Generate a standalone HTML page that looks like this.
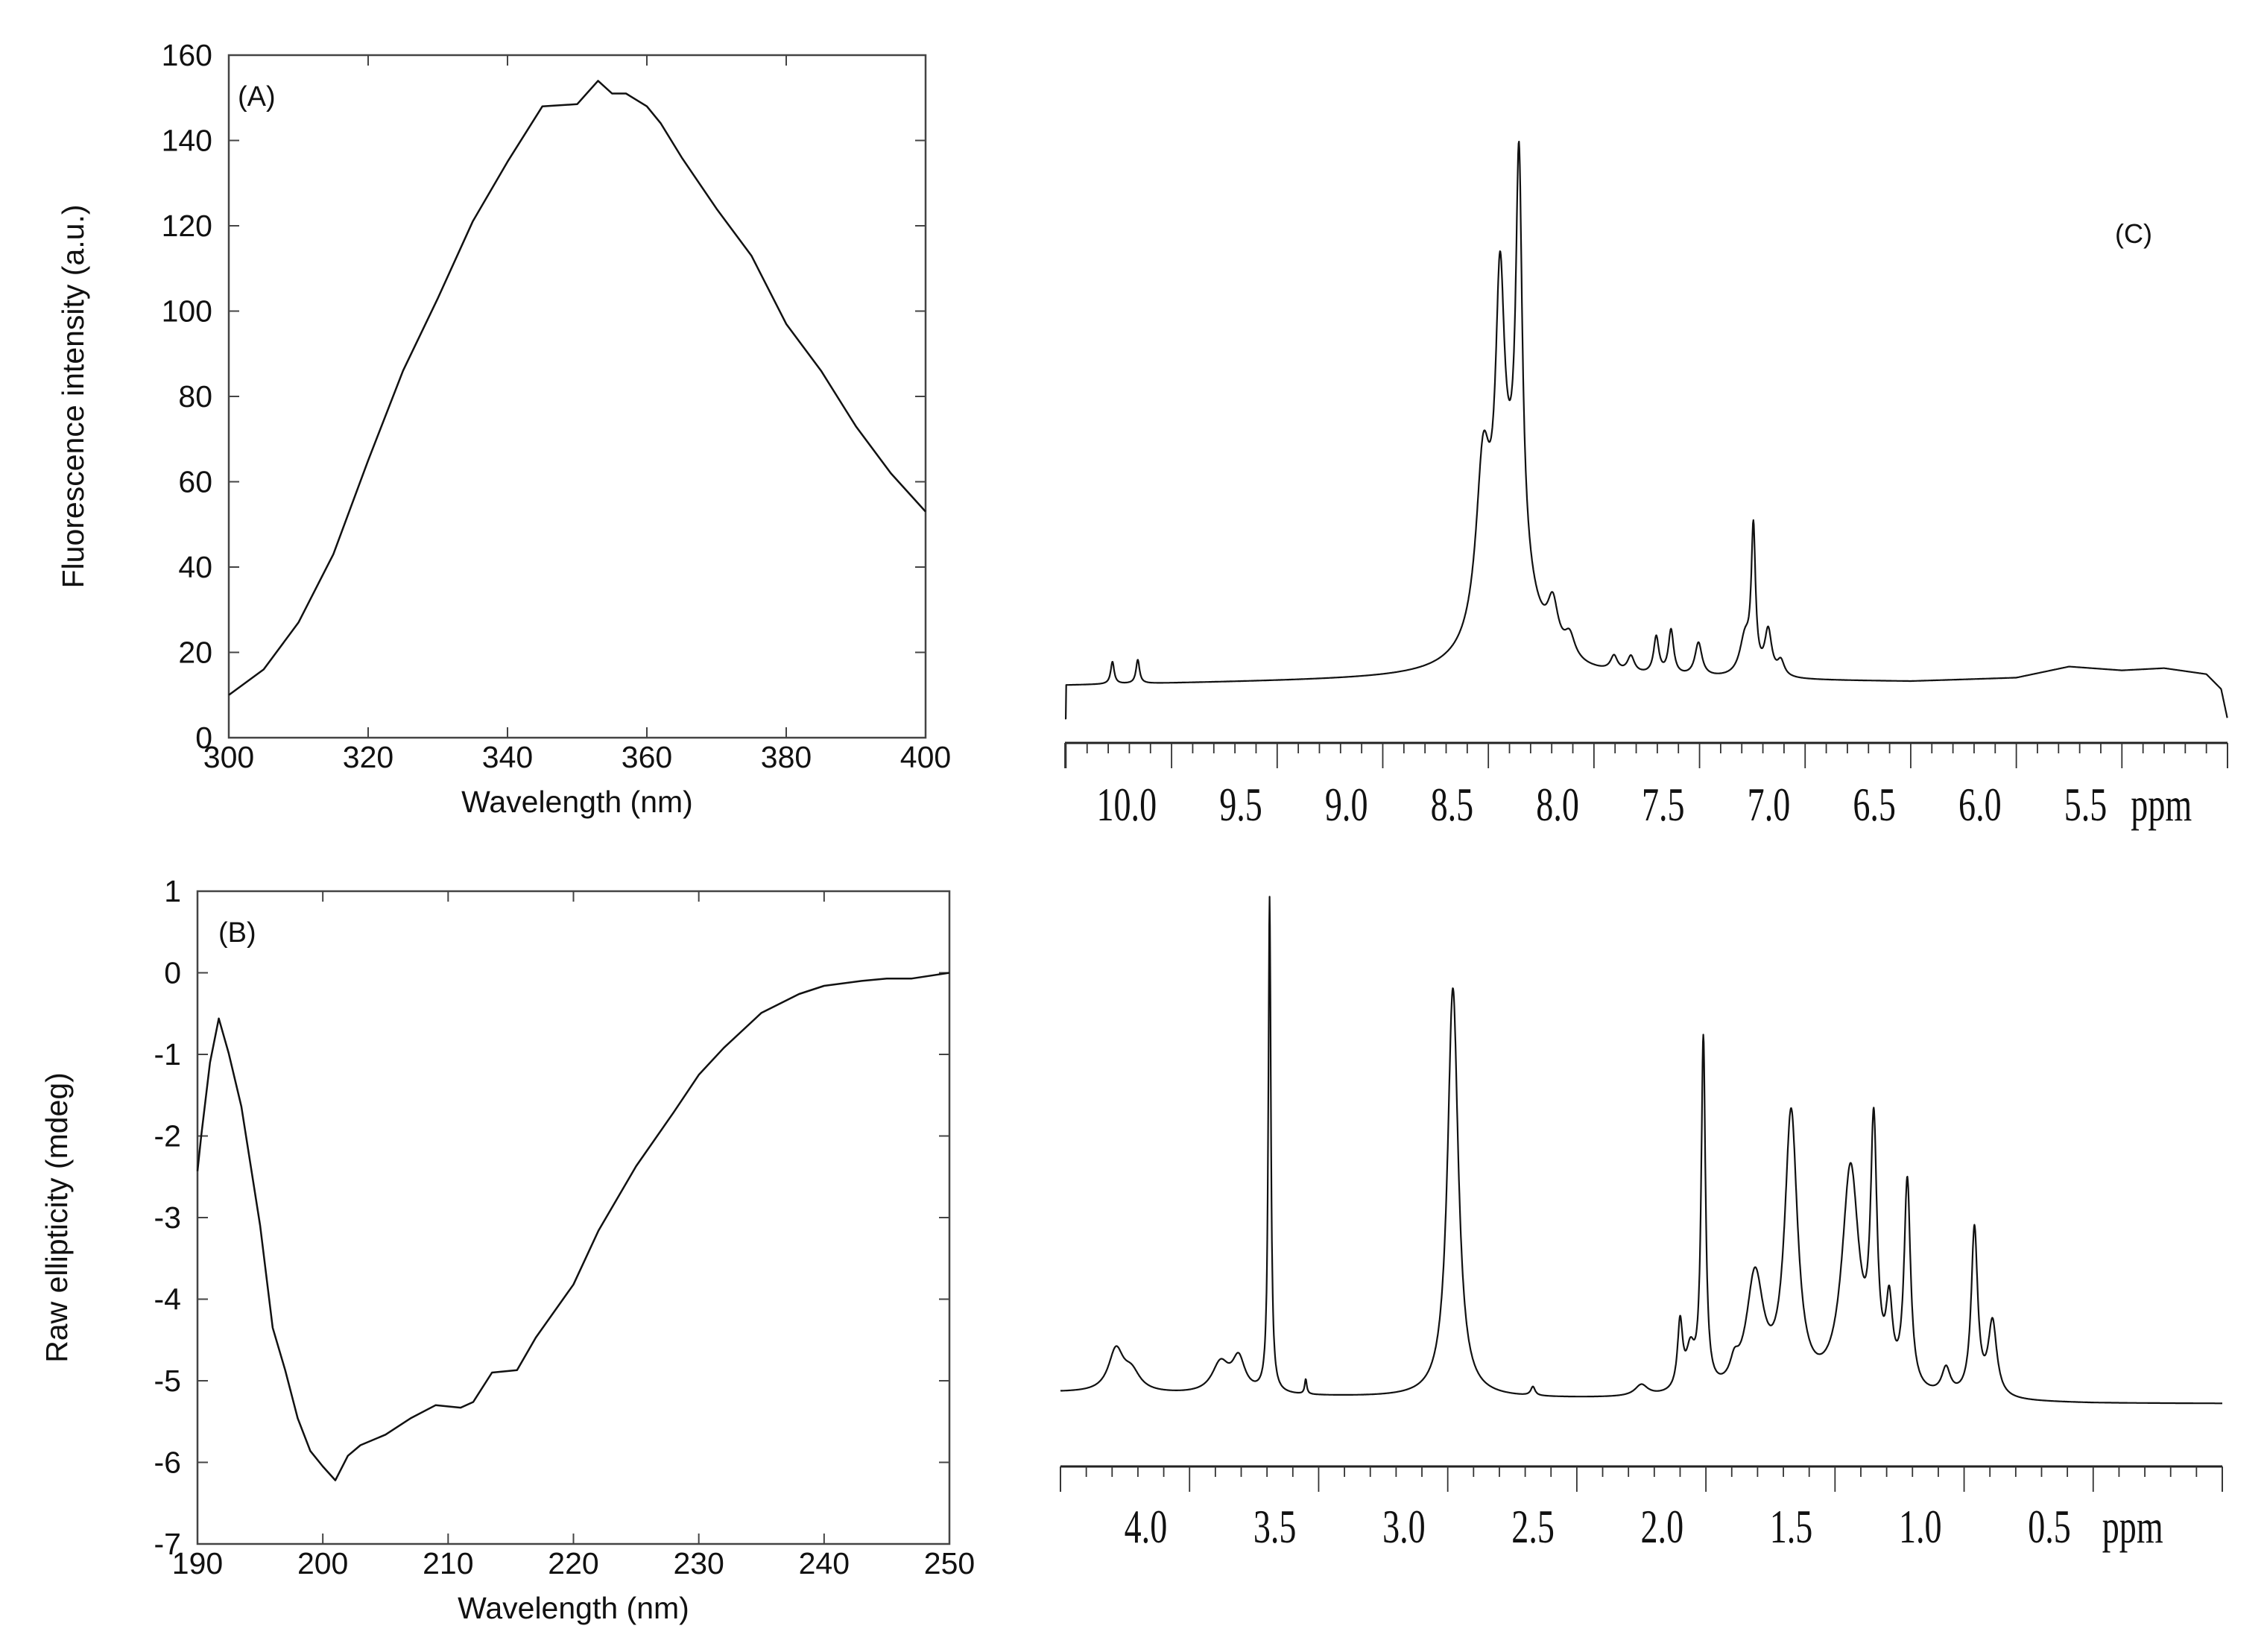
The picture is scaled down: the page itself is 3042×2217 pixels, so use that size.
<!DOCTYPE html>
<html><head><meta charset="utf-8"><style>
html,body{margin:0;padding:0;background:#fff;}
svg{display:block;}
.t{font-family:"Liberation Sans",sans-serif;fill:#111;}
.s{font-family:"Liberation Serif",serif;fill:#111;}
</style></head><body>
<svg id="fig" width="3042" height="2217" viewBox="0 0 3042 2217" xmlns="http://www.w3.org/2000/svg">
<g id="pa"></g>
<g id="pb"></g>
<g id="pc1"></g>
<g id="pc2"></g>
<text class="t" x="2838" y="326" font-size="36">(C)</text>
</svg>
<script>
// ---- Panel A data ----
const aWavelength=[300,305,310,315,320,325,330,335,340,345,350,353,355,357,360,362,365,370,375,380,385,390,395,400];
const aIntensity=[10,16,27,43,65,86,103,121,135,148,148.5,154,151,151,148,144,136,124,113,97,86,73,62,53];
const aXTicks=[300,320,340,360,380,400];
const aYTicks=[0,20,40,60,80,100,120,140,160];
// ---- Panel B data ----
const bWavelength=[190,190.3,191,191.7,192.5,193.5,195,196,197,198,199,200,201,202,203,205,207,209,211,212,213.5,215.5,217,220,222,225,228,230,232,235,238,240,243,245,247,250];
const bEllipticity=[-2.43,-2.0,-1.1,-0.56,-0.99,-1.64,-3.1,-4.35,-4.87,-5.46,-5.86,-6.05,-6.22,-5.92,-5.79,-5.66,-5.46,-5.3,-5.33,-5.26,-4.9,-4.87,-4.47,-3.82,-3.16,-2.37,-1.71,-1.25,-0.92,-0.49,-0.26,-0.16,-0.1,-0.07,-0.07,0.0];
const bXTicks=[190,200,210,220,230,240,250];
const bYTicks=[1,0,-1,-2,-3,-4,-5,-6,-7];
// ---- Panel C (aromatic) peak list ----
const c1PeakPpm=[10.28,10.16,8.525,8.445,8.355,8.395,8.195,8.115,7.905,7.825,7.705,7.635,7.505,7.245,7.285,7.175,7.115];
const c1PeakHeight=[30,32,217,350,510,200,60,30,20,22,50,60,45,190,50,60,20];
const c1PeakWidth=[0.01,0.01,0.04,0.025,0.018,0.1,0.03,0.03,0.02,0.02,0.015,0.015,0.02,0.012,0.03,0.02,0.02];
const c1BasePpm=[10.5,9.5,8.9,8.7,7.5,6.5,6.0,5.75,5.5,5.3,5.1,5.03,5.0];
const c1BaseVal=[-5,0,3,4,2,0,5,20,15,18,10,-10,-50];
const c1Ticks=[10.0,9.5,9.0,8.5,8.0,7.5,7.0,6.5,6.0,5.5];
// ---- Panel C (aliphatic) peak list ----
const c2PeakPpm=[4.285,4.225,3.88,3.81,3.69,3.55,2.98,2.67,2.25,2.10,2.06,2.01,1.89,1.81,1.67,1.44,1.35,1.29,1.22,1.07,0.96,0.89];
const c2PeakHeight=[55,25,40,45,665,20,550,12,15,90,50,470,25,155,370,300,330,100,280,35,225,100];
const c2PeakWidth=[0.035,0.04,0.04,0.03,0.006,0.005,0.025,0.01,0.03,0.012,0.02,0.01,0.02,0.04,0.03,0.04,0.015,0.015,0.015,0.02,0.015,0.02];
const c2BasePpm=[4.5,3.7,3.0,2.0,1.0,0.5,0.0];
const c2BaseVal=[5,0,-3,-5,-8,-10,-10];
const c2Ticks=[4.0,3.5,3.0,2.5,2.0,1.5,1.0,0.5];

const NS="http://www.w3.org/2000/svg";
function mk(tag,attrs,parent){const e=document.createElementNS(NS,tag);for(const k in attrs)e.setAttribute(k,attrs[k]);parent.appendChild(e);return e;}
function lin(d0,d1,r0,r1){return v=>r0+(v-d0)*(r1-r0)/(d1-d0);}
function interp(xs,ys,x){for(let i=0;i<xs.length-1;i++){const a=xs[i],b=xs[i+1];if((x-a)*(x-b)<=0){return ys[i]+(x-a)*(ys[i+1]-ys[i])/(b-a);}}return ys[ys.length-1];}

function framePanel(g,L,R,T,B,xd,yd,xt,yt,xs,ys,xTitle,yTitle,tag,prefix,ytOff,lbx){
  const sx=lin(xd[0],xd[1],L,R), sy=lin(yd[0],yd[1],B,T);
  const fr=mk('rect',{x:L,y:T,width:R-L,height:B-T,fill:'none',stroke:'#444','stroke-width':2.5},g);
  
  
  xt.forEach(v=>{const x=sx(v);
    mk('line',{x1:x,y1:B,x2:x,y2:B-14,stroke:'#444','stroke-width':2},g);
    mk('line',{x1:x,y1:T,x2:x,y2:T+14,stroke:'#444','stroke-width':2},g);
    const t=mk('text',{x:x,y:B+40,'font-size':41,'text-anchor':'middle',class:'t'},g);t.textContent=v;
    
    
  });
  yt.forEach(v=>{const y=sy(v);
    mk('line',{x1:L,y1:y,x2:L+14,y2:y,stroke:'#444','stroke-width':2},g);
    mk('line',{x1:R,y1:y,x2:R-14,y2:y,stroke:'#444','stroke-width':2},g);
    const t=mk('text',{x:L-22,y:y+14,'font-size':41,'text-anchor':'end',class:'t'},g);t.textContent=v;
    
    
  });
  const xtt=mk('text',{x:(L+R)/2,y:B+100,'font-size':41,'text-anchor':'middle',class:'t'},g);xtt.textContent=xTitle;
  
  
  const cx=L-ytOff, cy=(T+B)/2;
  const ytt=mk('text',{x:cx,y:cy,'font-size':41,'text-anchor':'middle',class:'t',transform:`rotate(-90 ${cx} ${cy})`},g);ytt.textContent=yTitle;
  
  
  const lb=mk('text',{x:L+lbx,y:T+68,'font-size':38,class:'t'},g);lb.textContent=tag;
  
  
  const d=xs.map((v,i)=>(i?'L':'M')+sx(v).toFixed(1)+' '+sy(ys[i]).toFixed(1)).join(' ');
  const p=mk('path',{d:d,fill:'none',stroke:'#111','stroke-width':2.5,'stroke-linejoin':'round'},g);
  
  
}
framePanel(document.getElementById('pa'),307,1242,74,990,[300,400],[0,160],aXTicks,aYTicks,aWavelength,aIntensity,'Wavelength (nm)','Fluorescence intensity (a.u.)','(A)','panel-a',195,12);
framePanel(document.getElementById('pb'),265,1274,1196,2072,[190,250],[-7,1],bXTicks,bYTicks,bWavelength,bEllipticity,'Wavelength (nm)','Raw ellipticity (mdeg)','(B)','panel-b',175,28);

function nmr(g,prefix,ppmL,ppmR,L,R,baseY,axisY,peaksP,peaksH,peaksW,bP,bV,ticks,labelY,labelOff,step){
  const sx=lin(ppmL,ppmR,L,R);
  let d='';
  for(let p=ppmL;p>=ppmR-1e-9;p-=step){
    let v=interp(bP,bV,p);
    for(let i=0;i<peaksP.length;i++){const u=(p-peaksP[i])/peaksW[i];v+=peaksH[i]/(1+u*u);}
    d+=(d?'L':'M')+sx(p).toFixed(1)+' '+(baseY-v).toFixed(1);
  }
  const path=mk('path',{d:d,fill:'none',stroke:'#111','stroke-width':2.2,'stroke-linejoin':'round'},g);
  
  
  const ax=mk('line',{x1:L,y1:axisY,x2:R,y2:axisY,stroke:'#222','stroke-width':3},g);
  
  
  const n=Math.round((ppmL-ppmR)/0.1);
  for(let i=0;i<=n+1;i++){const p=Math.round(ppmL*10)/10-i*0.1; if(p<ppmR-1e-6||p>ppmL+1e-6)continue; const x=sx(p);
    const isMaj=Math.abs(p*2-Math.round(p*2))<1e-6;
    mk('line',{x1:x,y1:axisY,x2:x,y2:isMaj?axisY+34:axisY+14,stroke:'#333','stroke-width':1.8},g);
  }
  [L,R].forEach(x=>mk('line',{x1:x,y1:axisY,x2:x,y2:axisY+34,stroke:'#333','stroke-width':1.8},g));
  ticks.forEach(v=>{const x=sx(v)-labelOff;
    const t=mk('text',{transform:`translate(${x} ${labelY}) scale(0.72 1)`,'font-size':64,'text-anchor':'end',class:'s'},g);
    t.textContent=v.toFixed(1);
    
    
  });
  const u=mk('text',{transform:`translate(${sx(ticks[ticks.length-1])+12} ${labelY}) scale(0.72 1)`,'font-size':64,class:'s'},g);
  u.textContent='ppm';
  
  
}
nmr(document.getElementById('pc1'),'nmr-aromatic',10.505,5.0,1429,2989,915,997,c1PeakPpm,c1PeakHeight,c1PeakWidth,c1BasePpm,c1BaseVal,c1Ticks,1101,20,0.002);
nmr(document.getElementById('pc2'),'nmr-aliphatic',4.5,0.0,1423,2982,1874,1968,c2PeakPpm,c2PeakHeight,c2PeakWidth,c2BasePpm,c2BaseVal,c2Ticks,2070,30,0.0015);
</script>
</body></html>
